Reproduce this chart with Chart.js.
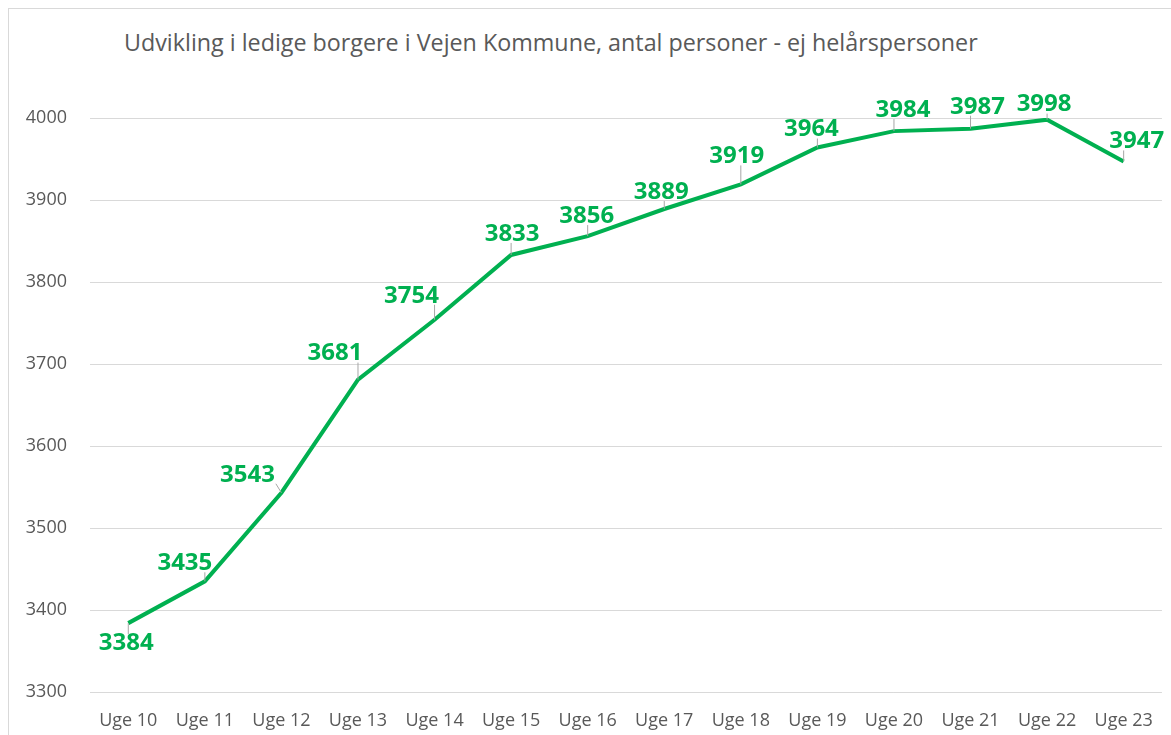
<!DOCTYPE html>
<html>
<head>
<meta charset="utf-8">
<script src="https://cdn.jsdelivr.net/npm/chart.js@4.4.1/dist/chart.umd.min.js"></script>
<style>
  html, body { margin: 0; padding: 0; background: #fff; }
  #wrap { position: relative; width: 1171px; height: 735px; overflow: hidden; }
  #frame { position: absolute; left: 8px; top: 8px; width: 1200px; height: 800px;
           border-left: 1px solid #d9d9d9; border-top: 1px solid #d9d9d9; }
  #title { position: absolute; left: 124px; top: 26px; font: 23.3px "Open Sans", sans-serif;
           line-height: 32px; color: #595959; white-space: nowrap; }
  canvas { position: absolute; left: 0; top: 0; }
</style>
</head>
<body>
<div id="wrap">
  <div id="frame"></div>
  <div id="title">Udvikling i ledige borgere i Vejen Kommune, antal personer - ej helårspersoner</div>
  <canvas id="lineChart" width="1171" height="735"></canvas>
</div>
<script>
const weeks = ['Uge 10', 'Uge 11', 'Uge 12', 'Uge 13', 'Uge 14', 'Uge 15', 'Uge 16',
               'Uge 17', 'Uge 18', 'Uge 19', 'Uge 20', 'Uge 21', 'Uge 22', 'Uge 23'];
const persons = [3384, 3435, 3543, 3681, 3754, 3833, 3856, 3889, 3919, 3964, 3984, 3987, 3998, 3947];
const yTicks = [3300, 3400, 3500, 3600, 3700, 3800, 3900, 4000];

// where each data label sits relative to its point (px), like the moved Excel labels
const labelShift = [
  [-2, 20], [-20, -18], [-34, -18], [-23, -26], [-23, -24], [1, -21], [-1, -20],
  [-3, -17], [-4, -28], [-6, -18], [9, -21], [7, -22], [-3, -15], [13, -20]
];

const GREEN = '#00b050';
const GREY = '#595959';

const valueLabels = {
  id: 'valueLabels',
  afterDatasetsDraw(chart) {
    const ctx = chart.ctx;
    const meta = chart.getDatasetMeta(0);
    ctx.save();
    ctx.font = 'bold 24px "Open Sans", sans-serif';
    ctx.textAlign = 'center';
    ctx.textBaseline = 'middle';
    meta.data.forEach((pt, i) => {
      const text = String(persons[i]);
      const [dx, dy] = labelShift[i];
      const cx = pt.x + dx, cy = pt.y + dy;
      const w = ctx.measureText(text).width / 2 + 1;
      const h = 9;
      // leader line from point to nearest edge of label box
      const nx = Math.max(cx - w, Math.min(pt.x, cx + w));
      const ny = Math.max(cy - h, Math.min(pt.y, cy + h));
      if (Math.hypot(nx - pt.x, ny - pt.y) > 5) {
        ctx.strokeStyle = '#a6a6a6';
        ctx.lineWidth = 1;
        ctx.beginPath();
        ctx.moveTo(pt.x, pt.y);
        ctx.lineTo(nx, ny);
        ctx.stroke();
      }
      ctx.fillStyle = GREEN;
      ctx.fillText(text, cx, cy);
    });
    ctx.restore();
  }
};

new Chart(document.getElementById('lineChart').getContext('2d'), {
  type: 'line',
  data: {
    labels: weeks,
    datasets: [{
      data: persons,
      borderColor: GREEN,
      borderWidth: 4,
      pointRadius: 0,
      tension: 0,
      fill: false
    }]
  },
  options: {
    responsive: false,
    animation: false,
    layout: { padding: { top: 118, right: 6, left: 0, bottom: 0 } },
    plugins: {
      legend: { display: false },
      tooltip: { enabled: false }
    },
    scales: {
      x: {
        offset: true,
        grid: { display: false, drawTicks: false },
        border: { display: false },
        ticks: { color: GREY, font: { family: 'Open Sans', size: 18 }, padding: 18, maxRotation: 0 },
        afterFit: s => { s.height = 43; }
      },
      y: {
        min: 3300,
        max: 4000,
        afterBuildTicks: s => { s.ticks = yTicks.map(v => ({ value: v })); },
        grid: { color: '#d9d9d9', drawTicks: false },
        border: { display: false },
        ticks: {
          color: GREY,
          font: { family: 'Open Sans', size: 18 },
          padding: 23,
          callback: v => String(v)
        },
        afterFit: s => { s.width = 90; }
      }
    }
  },
  plugins: [valueLabels]
});
</script>
</body>
</html>
